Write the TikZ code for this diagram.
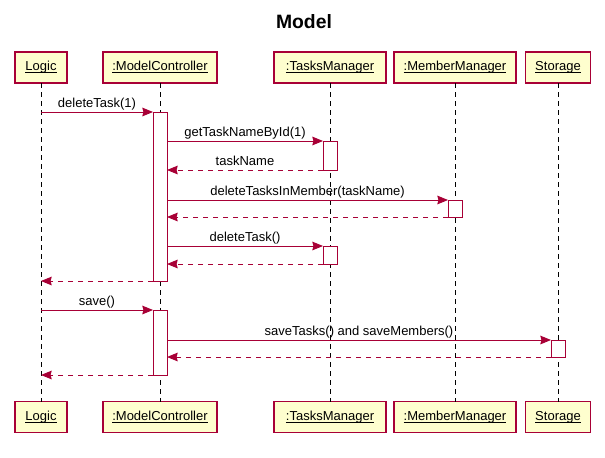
\documentclass[tikz,border=0pt]{standalone}
\usepackage{fontspec}
\setmainfont{Liberation Sans}
\usetikzlibrary{positioning}
\usetikzlibrary{arrows.meta}
\definecolor{umlred}{HTML}{A80036}
\definecolor{umlfill}{HTML}{FEFECE}
\newcommand{\ulname}[1]{\setbox0\hbox{#1}\rlap{\rule[-1.7pt]{\wd0}{0.7pt}}\box0}
\tikzset{
	every node/.style={font=\fontsize{9.75}{11}\selectfont, outer sep=0pt},
	actor/.style={draw=umlred, fill=umlfill, line width=0.85pt, minimum height=23.25pt, inner sep=0pt, text height=7.7pt, text depth=2.5pt},
	lifeline/.style={draw=black, line width=0.75pt, dash pattern=on 3.75pt off 3pt},
	act/.style={draw=umlred, fill=white, line width=0.75pt, minimum width=10.5pt, inner sep=0pt, anchor=north},
	call/.style={umlred, line width=0.75pt, -{Stealth[length=8pt,width=6.5pt,inset=0.8pt]}},
	reply/.style={call, dash pattern=on 3.75pt off 3.75pt},
	lbl/.style={midway, anchor=base, yshift=3.4pt, text=black}
}

\begin{document}
\begin{tikzpicture}[x=0.75pt, y=-0.75pt]
	\useasboundingbox (0,0) rectangle (605,457);
	% Title
	\node (title) [font=\bfseries\fontsize{14.5}{17}\selectfont] at (304,22) {Model};
	
	% participants, top and bottom
	\node (logicT) [actor, minimum width=39pt] at (41,67.5) {\ulname{Logic}};
	\node (mcT) [actor, minimum width=85.5pt] at (160,67.5) {\ulname{:ModelController}};
	\node (tmT) [actor, minimum width=84pt] at (330,67.5) {\ulname{:TasksManager}};
	\node (mmT) [actor, minimum width=91.5pt] at (455,67.5) {\ulname{:MemberManager}};
	\node (stT) [actor, minimum width=48.75pt] at (558,67.5) {\ulname{Storage}};
	
	\node (logicB) [actor, minimum width=39pt] at (41,417) {\ulname{Logic}};
	\node (mcB) [actor, minimum width=85.5pt] at (160,417) {\ulname{:ModelController}};
	\node (tmB) [actor, minimum width=84pt] at (330,417) {\ulname{:TasksManager}};
	\node (mmB) [actor, minimum width=91.5pt] at (455,417) {\ulname{:MemberManager}};
	\node (stB) [actor, minimum width=48.75pt] at (558,417) {\ulname{Storage}};
	
	\path[lifeline] (logicT) -- (logicB);
	\path[lifeline] (mcT) -- (mcB);
	\path[lifeline] (tmT) -- (tmB);
	\path[lifeline] (mmT) -- (mmB);
	\path[lifeline] (stT) -- (stB);
	
	% activations
	\node (mc1) [act, minimum height=126.75pt] at (160,112) {};
	\node (tm1) [act, minimum height=21.75pt] at (330,141) {};
	\node (mm1) [act, minimum height=12.75pt] at (455,200) {};
	\node (tm2) [act, minimum height=13.5pt] at (330,246) {};
	\node (mc2) [act, minimum height=48.75pt] at (160,310) {};
	\node (st1) [act, minimum height=12.75pt] at (558,340) {};
	
	% messages
	\draw[call] (logicT |- mc1.north) -- node[lbl] {deleteTask(1)} (mc1.north west);
	\draw[call] (mc1.east |- tm1.north) -- node[lbl] {getTaskNameById(1)} (tm1.north west);
	\draw[reply] (tm1.south west) -- node[lbl] {taskName} (mc1.east |- tm1.south);
	\draw[call] (mc1.east |- mm1.north) -- node[lbl] {deleteTasksInMember(taskName)} (mm1.north west);
	\draw[reply] (mm1.south west) -- (mc1.east |- mm1.south);
	\draw[call] (mc1.east |- tm2.north) -- node[lbl] {deleteTask()} (tm2.north west);
	\draw[reply] (tm2.south west) -- (mc1.east |- tm2.south);
	\draw[reply] (mc1.south west) -- (logicT |- mc1.south);
	
	\draw[call] (logicT |- mc2.north) -- node[lbl] {save()} (mc2.north west);
	\draw[call] (mc2.east |- st1.north) -- node[lbl] {saveTasks() and saveMembers()} (st1.north west);
	\draw[reply] (st1.south west) -- (mc2.east |- st1.south);
	\draw[reply] (mc2.south west) -- (logicT |- mc2.south);
	
\end{tikzpicture}
\end{document}
